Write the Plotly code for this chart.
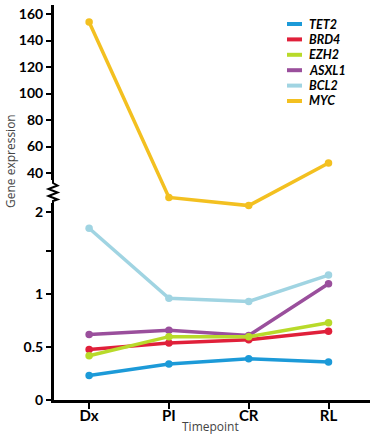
import numpy as np
import plotly.graph_objects as go

# ---- data ----
timepoints = ["Dx", "PI", "CR", "RL"]
TET2 = [0.23, 0.34, 0.39, 0.36]
BRD4 = [0.48, 0.54, 0.57, 0.65]
EZH2 = [0.42, 0.60, 0.60, 0.73]
ASXL1 = [0.62, 0.66, 0.61, 1.12]
BCL2 = [1.79, 0.96, 0.93, 1.22]
MYC = [154, 16, 8, 47.5]

y_tick_values = [0, 0.5, 1, 1.5, 2, 40, 60, 80, 100, 120, 140, 160]
y_tick_labels = ["0", "0.5", "1", "", "2", "40", "60", "80", "100", "120", "140", "160"]

# ---- broken-axis scale (value -> display units) ----
SCALE_VALUES = [0, 0.5, 1, 1.5, 2, 40, 160]
SCALE_DISPLAY = [0.3, 52.7, 106, 149, 188.3, 227, 386]


def scale(v):
    return np.interp(v, SCALE_VALUES, SCALE_DISPLAY)


series = [
    ("MYC", MYC, "#f3c020"),
    ("BCL2", BCL2, "#a0d4e2"),
    ("ASXL1", ASXL1, "#9a4f9c"),
    ("BRD4", BRD4, "#e0203a"),
    ("EZH2", EZH2, "#b8da2a"),
    ("TET2", TET2, "#1c9ad8"),
]
legend_order = ["TET2", "BRD4", "EZH2", "ASXL1", "BCL2", "MYC"]
colors = {n: c for n, _, c in series}

x_idx = list(range(len(timepoints)))
fig = go.Figure()
for name, vals, col in series:
    fig.add_trace(go.Scatter(
        x=x_idx, y=scale(vals), mode="lines+markers", name=name,
        line=dict(color=col, width=3.5), marker=dict(color=col, size=7.5),
        showlegend=False, hoverinfo="skip"))

L, T, B, R = 54, 5, 36, 0
W, H = 370, 436
pw = W - L - R
ph = H - T - B


def px2x(px):
    return (px - L) / pw


def py2y(py):
    return (H - B - py) / ph


annotations = [
    dict(text="Gene expression", x=px2x(10), y=py2y(161),
         xref="paper", yref="paper", showarrow=False, textangle=-90,
         xanchor="center", yanchor="middle",
         font=dict(family="Open Sans", size=12, color="#444444")),
    dict(text="Timepoint", x=px2x(210), y=py2y(427),
         xref="paper", yref="paper", showarrow=False,
         xanchor="center", yanchor="middle",
         font=dict(family="Open Sans", size=12, color="#444444")),
]
shapes = []
# manual legend
for i, name in enumerate(legend_order):
    yy = py2y(24 + i * 15.4)
    shapes.append(dict(type="line", xref="paper", yref="paper",
                       x0=px2x(287), x1=px2x(302), y0=yy, y1=yy,
                       line=dict(color=colors[name], width=4)))
    annotations.append(dict(text=name, x=px2x(307), y=yy, xref="paper", yref="paper",
                            xanchor="left", yanchor="middle", showarrow=False,
                            font=dict(family="Lato", size=12.5, color="black",
                                      weight="bold", style="italic")))

# axis break (zigzag) on y axis
ax = px2x(53)
d = 4.5 / pw
shapes.append(dict(type="rect", xref="paper", yref="paper",
                   x0=ax - 3 / pw, x1=ax + 3 / pw, y0=py2y(203), y1=py2y(180),
                   fillcolor="white", line=dict(width=0), layer="above"))
pts = [(ax, 180), (ax, 183), (ax + d, 185.5), (ax - d, 189), (ax + d, 192.5),
       (ax - d, 196), (ax + d, 199.5), (ax, 201), (ax, 203)]
path = "M " + " L ".join(f"{x},{py2y(y)}" for x, y in pts)
shapes.append(dict(type="path", xref="paper", yref="paper", path=path,
                   line=dict(color="black", width=2), layer="above"))

fig.update_layout(
    width=W, height=H,
    margin=dict(l=L, r=R, t=T, b=B),
    plot_bgcolor="white", paper_bgcolor="white",
    showlegend=False,
    xaxis=dict(range=[-0.44, 3.52], tickvals=x_idx, ticktext=timepoints,
               showline=True, linecolor="black", linewidth=3,
               ticks="outside", ticklen=6, tickwidth=2, tickcolor="black",
               ticklabelstandoff=-6,
               tickfont=dict(family="Lato", size=15, color="black", weight="bold"),
               showgrid=False, zeroline=False, fixedrange=True),
    yaxis=dict(range=[0, ph], tickvals=scale(y_tick_values), ticktext=y_tick_labels,
               showline=True, linecolor="black", linewidth=3,
               ticks="outside", ticklen=5, tickwidth=2, tickcolor="black",
               tickfont=dict(family="Lato", size=14, color="black", weight="bold"),
               showgrid=False, zeroline=False, fixedrange=True),
    annotations=annotations,
    shapes=shapes,
)

fig.write_html("out.html", config={"displayModeBar": False},
               post_script="document.body.style.margin='0';")
